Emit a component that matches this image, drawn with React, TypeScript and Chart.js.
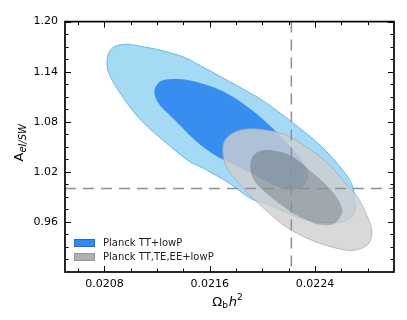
import { useEffect, useRef } from "react";
import { Chart, registerables } from "chart.js";

Chart.register(...registerables);

// ---------- data ----------
const seriesLabels = ["Planck TT+lowP", "Planck TT,TE,EE+lowP"];

// 95% contour, Planck TT+lowP
const blueOuterX = [0.02082, 0.02083, 0.02087, 0.02096, 0.02107, 0.02122, 0.0214, 0.02153, 0.02175, 0.02201, 0.02223, 0.02244, 0.02259, 0.02267, 0.0227, 0.0227, 0.02263, 0.02254, 0.02236, 0.02221, 0.02202, 0.02191, 0.02173, 0.02153, 0.02143, 0.02122, 0.02106, 0.02092, 0.02084];
const blueOuterY = [1.1494, 1.1612, 1.1694, 1.1729, 1.1706, 1.1659, 1.1576, 1.1471, 1.1282, 1.1047, 1.0788, 1.0518, 1.0259, 1.0082, 0.9906, 0.9706, 0.9612, 0.9588, 0.9612, 0.9694, 0.9824, 0.9882, 1.0082, 1.0259, 1.0341, 1.0612, 1.0847, 1.1141, 1.1353];
// 68% contour, Planck TT+lowP
const blueInnerX = [0.02118, 0.0212, 0.02127, 0.02145, 0.0217, 0.02191, 0.02208, 0.02225, 0.02234, 0.02233, 0.02225, 0.02213, 0.02198, 0.02179, 0.02164, 0.02149, 0.02134, 0.02122];
const blueInnerY = [1.1141, 1.1247, 1.1306, 1.1294, 1.1165, 1.0953, 1.0718, 1.0435, 1.0224, 1.0059, 0.9988, 1.0012, 1.0129, 1.0282, 1.04, 1.0576, 1.0812, 1.1];
// 95% contour, Planck TT,TE,EE+lowP
const grayOuterX = [0.0217, 0.02174, 0.02185, 0.022, 0.02219, 0.02236, 0.02251, 0.02264, 0.02272, 0.02278, 0.02283, 0.02282, 0.02278, 0.02269, 0.02257, 0.02238, 0.02219, 0.02206, 0.02193, 0.02181, 0.02172];
const grayOuterY = [1.0494, 1.0624, 1.0706, 1.0706, 1.0635, 1.0471, 1.0282, 1.0047, 0.9906, 0.9729, 0.9518, 0.9376, 0.9306, 0.9259, 0.9282, 0.9376, 0.9529, 0.9694, 0.9882, 1.0082, 1.0282];
// 68% contour, Planck TT,TE,EE+lowP
const grayInnerX = [0.02191, 0.02196, 0.02206, 0.02221, 0.02234, 0.02246, 0.02255, 0.0226, 0.0226, 0.02254, 0.02244, 0.02232, 0.02221, 0.02204, 0.02193];
const grayInnerY = [1.0318, 1.0435, 1.0459, 1.04, 1.0247, 1.0082, 0.9929, 0.9788, 0.9682, 0.9576, 0.9565, 0.9635, 0.9729, 0.9929, 1.0118];

const refOmegaB = 0.02222;
const refA = 1.0;

const xMajorTicks = [0.0208, 0.0216, 0.0224];
const yMajorTicks = [0.96, 1.02, 1.08, 1.14, 1.2];
const xMinorTicks = [0.0206, 0.021, 0.0212, 0.0214, 0.0218, 0.022, 0.0222, 0.0226, 0.0228];
const yMinorTicks = [0.915, 0.93, 0.945, 0.975, 0.99, 1.005, 1.035, 1.05, 1.065, 1.095, 1.11, 1.125, 1.155, 1.17, 1.185];

const FONT = "'DejaVu Sans', sans-serif";

const toPts = (xs: number[], ys: number[]) => xs.map((x, i) => ({ x, y: ys[i] }));

const contourPlugin = {
  id: "contours",
  beforeDatasetsDraw(chart: any) {
    const ctx = chart.ctx;
    chart.data.datasets.forEach((ds: any, i: number) => {
      const meta = chart.getDatasetMeta(i);
      const pts = meta.data.map((p: any) => ({ x: p.x, y: p.y }));
      const n = pts.length;
      if (n < 3) return;
      ctx.save();
      ctx.beginPath();
      ctx.moveTo(pts[0].x, pts[0].y);
      for (let k = 0; k < n; k++) {
        const p0 = pts[(k - 1 + n) % n];
        const p1 = pts[k];
        const p2 = pts[(k + 1) % n];
        const p3 = pts[(k + 2) % n];
        ctx.bezierCurveTo(
          p1.x + (p2.x - p0.x) / 6,
          p1.y + (p2.y - p0.y) / 6,
          p2.x - (p3.x - p1.x) / 6,
          p2.y - (p3.y - p1.y) / 6,
          p2.x,
          p2.y
        );
      }
      ctx.closePath();
      ctx.fillStyle = ds.fillColor;
      ctx.fill();
      if (ds.edgeColor) {
        ctx.strokeStyle = ds.edgeColor;
        ctx.lineWidth = 1;
        ctx.stroke();
      }
      ctx.restore();
    });
  },
  afterDatasetsDraw(chart: any) {
    const ctx = chart.ctx;
    const { left, right, top, bottom } = chart.chartArea;
    const xs = chart.scales.x;
    const ys = chart.scales.y;
    ctx.save();
    // reference dashed lines
    ctx.strokeStyle = "#8f8f8f";
    ctx.lineWidth = 1.5;
    ctx.setLineDash([11, 7]);
    const vx = xs.getPixelForValue(refOmegaB);
    ctx.beginPath();
    ctx.moveTo(vx, top);
    ctx.lineTo(vx, bottom);
    ctx.stroke();
    const hy = ys.getPixelForValue(refA);
    ctx.beginPath();
    ctx.moveTo(left, hy);
    ctx.lineTo(right, hy);
    ctx.stroke();
    ctx.setLineDash([]);

    // ticks (inward, all four sides)
    ctx.strokeStyle = "#000";
    ctx.lineWidth = 1;
    const tickX = (vals: number[], len: number) => {
      vals.forEach((v) => {
        const px = Math.round(xs.getPixelForValue(v)) + 0.5;
        ctx.beginPath();
        ctx.moveTo(px, bottom);
        ctx.lineTo(px, bottom - len);
        ctx.moveTo(px, top);
        ctx.lineTo(px, top + len);
        ctx.stroke();
      });
    };
    const tickY = (vals: number[], len: number) => {
      vals.forEach((v) => {
        const py = Math.round(ys.getPixelForValue(v)) + 0.5;
        ctx.beginPath();
        ctx.moveTo(left, py);
        ctx.lineTo(left + len, py);
        ctx.moveTo(right, py);
        ctx.lineTo(right - len, py);
        ctx.stroke();
      });
    };
    tickX(xMajorTicks, 6);
    tickX(xMinorTicks, 3.5);
    tickY(yMajorTicks, 6);
    tickY(yMinorTicks, 3.5);

    // frame
    ctx.lineWidth = 1.7;
    ctx.strokeRect(left, top, right - left, bottom - top);

    // legend
    const entries = chart.data.datasets.filter((d: any) => d.legendColor);
    entries.forEach((d: any, i: number) => {
      const bx = left + 9;
      const by = bottom - 33 + i * 14;
      ctx.fillStyle = d.legendColor;
      ctx.fillRect(bx, by, 21, 8);
      ctx.strokeStyle = d.legendEdge;
      ctx.lineWidth = 1;
      ctx.strokeRect(bx + 0.5, by + 0.5, 20, 7);
      ctx.fillStyle = "#222";
      ctx.font = `10px ${FONT}`;
      ctx.textBaseline = "middle";
      ctx.textAlign = "left";
      ctx.fillText(d.label, bx + 29, by + 4.5);
    });

    // x axis title: Omega_b h^2
    ctx.fillStyle = "#000";
    ctx.textBaseline = "alphabetic";
    const cx = (left + right) / 2 - 2;
    const base = bottom + 34;
    ctx.font = `13px ${FONT}`;
    const wO = ctx.measureText("Ω").width;
    ctx.font = `9px ${FONT}`;
    const wb = ctx.measureText("b").width;
    ctx.font = `italic 13px ${FONT}`;
    const wh = ctx.measureText("h").width;
    ctx.font = `9px ${FONT}`;
    const w2 = ctx.measureText("2").width;
    let x0 = cx - (wO + wb + 1 + wh + w2) / 2;
    ctx.font = `13px ${FONT}`;
    ctx.fillText("Ω", x0, base);
    x0 += wO;
    ctx.font = `9px ${FONT}`;
    ctx.fillText("b", x0, base + 2);
    x0 += wb + 1;
    ctx.font = `italic 13px ${FONT}`;
    ctx.fillText("h", x0, base);
    x0 += wh;
    ctx.font = `9px ${FONT}`;
    ctx.fillText("2", x0, base - 6);

    // y axis title: A_el/SW
    ctx.save();
    ctx.font = `13px ${FONT}`;
    const wA = ctx.measureText("A").width;
    ctx.font = `italic 10px ${FONT}`;
    const wsub = ctx.measureText("el/SW").width;
    const cy = (top + bottom) / 2 - 4;
    ctx.translate(15, cy + (wA + wsub) / 2);
    ctx.rotate(-Math.PI / 2);
    ctx.font = `13px ${FONT}`;
    ctx.fillText("A", 0, 0);
    ctx.font = `italic 10px ${FONT}`;
    ctx.fillText("el/SW", wA, 3);
    ctx.restore();

    ctx.restore();
  },
};

export default function App() {
  const ref = useRef<HTMLCanvasElement | null>(null);
  useEffect(() => {
    if (!ref.current) return;
    const chart = new Chart(ref.current, {
      type: "scatter",
      data: {
        datasets: [
          {
            label: seriesLabels[0],
            data: toPts(blueOuterX, blueOuterY),
            fillColor: "rgb(165,218,245)",
            edgeColor: "rgb(108,180,236)",
            pointRadius: 0,
            showLine: false,
          } as any,
          {
            label: seriesLabels[0],
            data: toPts(blueInnerX, blueInnerY),
            fillColor: "rgb(55,142,240)",
            legendColor: "rgb(46,139,242)",
            legendEdge: "rgb(30,110,210)",
            pointRadius: 0,
            showLine: false,
          } as any,
          {
            label: seriesLabels[1],
            data: toPts(grayOuterX, grayOuterY),
            fillColor: "rgba(207,207,207,0.79)",
            edgeColor: "rgba(165,165,165,0.7)",
            pointRadius: 0,
            showLine: false,
          } as any,
          {
            label: seriesLabels[1],
            data: toPts(grayInnerX, grayInnerY),
            fillColor: "rgba(0,0,0,0.2)",
            legendColor: "rgb(176,176,176)",
            legendEdge: "rgb(150,150,150)",
            pointRadius: 0,
            showLine: false,
          } as any,
        ],
      },
      options: {
        animation: false,
        responsive: true,
        maintainAspectRatio: false,
        events: [],
        layout: { padding: { top: 9, right: 5, left: 0, bottom: 0 } },
        plugins: {
          legend: { display: false },
          tooltip: { enabled: false },
          title: { display: false },
        },
        scales: {
          x: {
            type: "linear",
            min: 0.0205,
            max: 0.023,
            grid: { display: false, drawTicks: false },
            border: { display: false },
            afterBuildTicks: (s: any) => {
              s.ticks = xMajorTicks.map((v) => ({ value: v }));
            },
            afterFit: (s: any) => {
              s.height = 40;
            },
            ticks: {
              padding: 6,
              color: "#000",
              font: { family: FONT, size: 11 },
              maxRotation: 0,
              callback: (v: any) => Number(v).toFixed(4),
            },
          },
          y: {
            type: "linear",
            min: 0.9,
            max: 1.2,
            grid: { display: false, drawTicks: false },
            border: { display: false },
            afterBuildTicks: (s: any) => {
              s.ticks = yMajorTicks.map((v) => ({ value: v }));
            },
            afterFit: (s: any) => {
              s.width = 57;
            },
            ticks: {
              padding: 7,
              color: "#000",
              font: { family: FONT, size: 11 },
              callback: (v: any) => Number(v).toFixed(2),
            },
          },
        },
      } as any,
      plugins: [contourPlugin],
    });
    return () => chart.destroy();
  }, []);
  return (
    <div style={{ width: "100%", height: 304, position: "relative" }}>
      <canvas ref={ref} />
    </div>
  );
}
